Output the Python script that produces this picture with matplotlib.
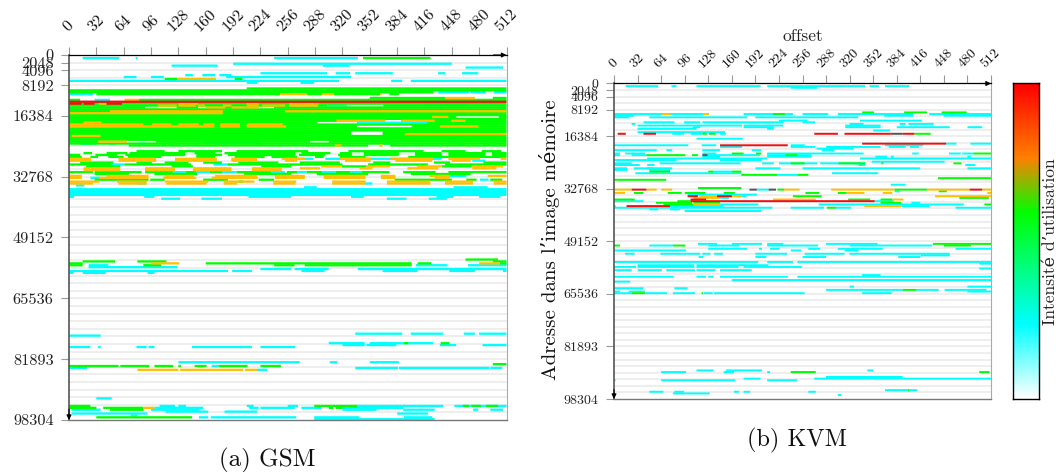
import numpy as np
import matplotlib
matplotlib.use("Agg")
from matplotlib import pyplot as plt
from matplotlib.colors import LinearSegmentedColormap

plt.rcParams['font.family'] = ['cmr10', 'DejaVu Serif']

# address of row = row * ROW_BYTES; every segment is (row, first offset, last offset)
ROW_BYTES = 512
MAX_ADDR = 98304
MAX_OFFSET = 512

x_ticks = list(range(0, 513, 32))
y_ticks = [0, 2048, 4096, 8192, 16384, 32768, 49152, 65536, 81920, 98304]
y_labels = ["0", "2048", "4096", "8192", "16384", "32768", "49152", "65536", "81893", "98304"]

gsm_cyan = [
    (1, 16, 59), (1, 78, 80), (1, 240, 338), (4, 192, 448), (5, 120, 174), (5, 297, 328), (6, 464, 508),
    (9, 224, 302), (9, 312, 329), (9, 335, 379), (9, 432, 440), (9, 460, 479), (10, 136, 145), (10, 156, 171),
    (10, 176, 190), (11, 64, 79), (11, 96, 111), (11, 184, 330), (13, 0, 316), (13, 377, 390), (13, 400, 512),
    (14, 208, 220), (14, 271, 287), (19, 432, 468), (19, 470, 487), (19, 497, 512), (20, 0, 28),
    (23, 30, 48), (25, 32, 40), (25, 415, 465), (26, 30, 42), (26, 302, 325), (32, 19, 30), (32, 78, 90),
    (32, 138, 149), (32, 395, 425), (35, 38, 87), (35, 278, 286), (35, 337, 419), (36, 87, 97), (36, 120, 128),
    (36, 152, 157), (43, 245, 255), (44, 406, 420), (44, 439, 471), (45, 157, 223), (46, 13, 32), (46, 47, 54),
    (46, 82, 89), (46, 117, 124), (46, 368, 376), (46, 455, 462), (46, 489, 497), (53, 208, 225), (53, 240, 255),
    (54, 268, 286), (54, 300, 436), (55, 472, 487), (57, 50, 65), (57, 169, 188), (61, 122, 137), (61, 149, 165),
    (61, 179, 196), (61, 237, 253), (61, 267, 278), (61, 296, 312), (61, 329, 343), (63, 445, 465),
    (64, 25, 36), (68, 8, 18), (67, 80, 90), (67, 345, 355), (66, 409, 419), (65, 481, 491),
    (70, 0, 512), (71, 0, 512), (72, 0, 512), (73, 0, 512), (69, 275, 290), (69, 450, 490), (74, 0, 6),
    (74, 88, 100), (74, 330, 345), (75, 108, 130), (75, 155, 179), (75, 372, 395), (75, 421, 442),
    (74, 210, 260), (74, 430, 450), (74, 480, 505), (110, 23, 46), (110, 406, 443), (110, 467, 512),
    (111, 23, 127), (112, 224, 260), (112, 264, 304), (112, 338, 512), (113, 0, 186), (113, 191, 214),
    (113, 272, 299), (113, 367, 408), (113, 445, 475), (113, 508, 512), (114, 0, 5), (114, 16, 43), (114, 92, 100),
    (146, 335, 390), (146, 400, 438), (146, 462, 475), (146, 480, 512), (147, 0, 37), (151, 304, 346),
    (151, 352, 426), (152, 320, 346), (152, 348, 383), (152, 434, 453), (152, 484, 512), (153, 0, 25),
    (153, 34, 37), (153, 79, 91), (153, 93, 100), (153, 144, 214), (153, 224, 265), (161, 128, 270),
    (161, 305, 314), (161, 352, 386), (163, 167, 175), (164, 0, 21), (164, 335, 385), (164, 386, 492),
    (164, 493, 507), (165, 220, 232), (180, 32, 50), (184, 106, 124), (184, 128, 137), (184, 208, 216),
    (184, 256, 268), (184, 337, 438), (184, 451, 512), (185, 100, 157), (185, 211, 222), (185, 224, 264),
    (185, 272, 295), (185, 320, 391), (186, 3, 37), (186, 96, 153), (186, 320, 360), (186, 391, 428),
    (186, 473, 479), (186, 493, 508), (187, 113, 163), (187, 182, 220), (188, 3, 92), (188, 384, 420),
    (189, 72, 80), (190, 152, 163), (190, 166, 266), (190, 287, 340), (190, 392, 425), (191, 287, 428),
]
gsm_green = [
    (1, 344, 423), (12, 112, 127), (12, 194, 203), (17, 208, 512), (18, 0, 512), (19, 0, 426), (20, 32, 247),
    (20, 278, 296), (20, 310, 364), (20, 375, 386), (22, 352, 440), (22, 496, 512), (23, 0, 13), (23, 82, 512),
    (25, 0, 512), (26, 0, 258), (26, 291, 302), (26, 368, 512), (27, 0, 89), (27, 126, 151), (27, 161, 222),
    (27, 240, 512), (28, 0, 512), (29, 0, 512), (30, 0, 512), (31, 0, 512), (32, 0, 453), (32, 503, 512),
    (33, 0, 512), (34, 0, 370), (34, 389, 512), (35, 0, 291), (35, 419, 512), (36, 0, 512), (37, 0, 337),
    (37, 401, 512), (38, 0, 512), (39, 0, 512), (40, 0, 330), (40, 367, 512), (41, 0, 330), (41, 367, 395),
    (42, 0, 512), (43, 0, 512), (44, 0, 512), (45, 0, 36), (45, 102, 282), (45, 304, 512), (46, 0, 512),
    (47, 70, 350), (47, 376, 512), (50, 79, 112), (50, 128, 179), (50, 196, 280), (50, 327, 415), (50, 436, 464),
    (50, 483, 506), (51, 17, 27), (51, 44, 68), (51, 71, 136), (51, 147, 171), (51, 182, 265), (51, 272, 306),
    (51, 317, 331), (51, 345, 386), (51, 405, 436), (51, 444, 487), (51, 495, 512), (52, 0, 13), (52, 31, 56),
    (52, 66, 136), (52, 149, 179), (52, 186, 265), (52, 269, 300), (52, 315, 331), (52, 345, 386), (52, 405, 436),
    (52, 444, 487), (52, 495, 512), (53, 0, 15), (53, 25, 34), (53, 46, 64), (53, 69, 108), (53, 149, 171),
    (53, 194, 229), (53, 237, 267), (53, 288, 298), (53, 317, 347), (53, 397, 512), (56, 13, 52), (56, 79, 97),
    (56, 112, 140), (56, 157, 179), (56, 198, 245), (56, 270, 317), (56, 356, 376), (56, 427, 446), (56, 485, 512),
    (57, 0, 50), (57, 65, 143), (57, 186, 320), (57, 350, 420), (57, 440, 512), (58, 20, 60), (58, 120, 145),
    (58, 225, 260), (58, 319, 348), (58, 436, 471), (61, 0, 28), (61, 30, 85), (61, 89, 122), (61, 137, 149),
    (61, 165, 179), (61, 196, 237), (61, 255, 267), (61, 278, 296), (61, 312, 329), (61, 343, 375), (61, 391, 429),
    (61, 444, 512), (62, 30, 70), (62, 100, 150), (62, 205, 260), (62, 290, 350), (62, 400, 470), (65, 30, 93),
    (65, 95, 112), (65, 157, 186), (65, 222, 240), (65, 381, 448), (65, 465, 477), (65, 493, 507), (66, 198, 204),
    (108, 16, 54), (108, 80, 114), (107, 464, 502), (108, 496, 512), (109, 0, 16), (109, 160, 401), (109, 408, 424),
    (109, 504, 512), (110, 0, 16), (110, 87, 108), (110, 240, 264), (110, 276, 401), (163, 0, 58), (163, 60, 94),
    (163, 100, 122), (163, 128, 131), (163, 147, 161), (163, 175, 209), (163, 224, 248), (162, 496, 512),
    (151, 392, 397), (151, 435, 445), (184, 0, 25), (184, 287, 337), (184, 461, 468), (184, 471, 482), (184, 488, 502),
    (185, 0, 32), (185, 40, 87), (185, 304, 309), (185, 312, 320), (186, 48, 87), (190, 32, 144),
]
gsm_gold = [
    (12, 127, 172), (20, 247, 278), (20, 296, 310), (20, 364, 366), (22, 440, 475), (23, 65, 82), (25, 35, 44),
    (25, 128, 151), (25, 208, 222), (25, 258, 292), (26, 104, 126), (26, 128, 148), (26, 151, 159), (26, 180, 190),
    (26, 208, 222), (26, 226, 253), (26, 258, 291), (27, 161, 183), (27, 190, 208), (27, 208, 222), (29, 48, 180),
    (29, 253, 512), (30, 0, 180), (32, 425, 444), (34, 313, 370), (34, 389, 428), (34, 447, 464), (35, 17, 38),
    (36, 0, 87), (36, 97, 120), (36, 128, 152), (36, 157, 170), (36, 177, 200), (36, 208, 250), (37, 0, 170),
    (37, 177, 200), (37, 208, 254), (37, 434, 479), (41, 393, 512), (42, 3, 37), (45, 34, 68), (47, 311, 319),
    (47, 363, 367), (54, 0, 26), (54, 58, 102), (54, 124, 173), (54, 190, 220), (54, 249, 276), (54, 317, 354),
    (54, 376, 427), (54, 444, 481), (54, 505, 512), (55, 0, 26), (55, 58, 102), (55, 124, 173), (55, 190, 220),
    (55, 253, 267), (55, 323, 353), (55, 382, 425), (55, 448, 470), (58, 295, 319), (58, 348, 376), (58, 407, 436),
    (58, 471, 508), (59, 17, 60), (59, 89, 124), (59, 145, 190), (59, 214, 249), (59, 270, 294), (59, 340, 355),
    (59, 396, 432), (59, 472, 500), (60, 17, 60), (60, 89, 124), (60, 145, 190), (60, 214, 249), (63, 0, 15),
    (63, 44, 93), (63, 112, 146), (63, 171, 220), (63, 241, 276), (63, 298, 347), (63, 365, 382), (63, 422, 445),
    (63, 490, 512), (64, 0, 15), (64, 36, 93), (64, 110, 149), (64, 167, 221), (64, 241, 276), (64, 298, 347),
    (64, 365, 382), (64, 428, 446), (66, 0, 36), (66, 56, 91), (66, 112, 163), (66, 181, 217), (66, 239, 266),
    (66, 308, 347), (66, 372, 423), (66, 440, 473), (66, 497, 512), (67, 0, 28), (67, 58, 91), (67, 114, 161),
    (67, 181, 197), (67, 239, 265), (67, 308, 347), (67, 372, 423), (67, 440, 473), (67, 497, 512),
    (109, 96, 129), (109, 480, 504), (165, 80, 128), (165, 130, 204), (165, 206, 220), (185, 87, 100),
]
gsm_red = [(24, 0, 512), (25, 0, 15), (25, 17, 30), (25, 44, 62)]

kvm_cyan = [
    (1, 16, 60), (1, 78, 85), (1, 112, 199), (1, 208, 316), (1, 316, 341), (1, 347, 360), (1, 368, 401), (2, 240, 276),
    (18, 0, 122), (18, 176, 243), (18, 256, 291), (18, 304, 406), (18, 428, 512), (19, 0, 27), (19, 367, 406),
    (19, 448, 512), (20, 0, 21), (20, 48, 181), (20, 192, 332), (22, 224, 263), (22, 334, 418), (23, 40, 82),
    (23, 95, 117), (23, 120, 230), (23, 256, 273), (24, 24, 29), (24, 320, 339), (24, 388, 396), (24, 400, 434),
    (25, 32, 174), (25, 176, 230), (25, 314, 362), (26, 107, 117), (26, 176, 217), (26, 314, 362), (26, 384, 456),
    (26, 480, 500), (27, 32, 112), (27, 208, 217), (28, 352, 375), (29, 32, 151), (30, 79, 95), (30, 104, 120),
    (30, 144, 152), (33, 112, 175), (36, 451, 465), (36, 484, 512), (37, 0, 101), (37, 119, 139), (37, 240, 259),
    (37, 368, 420), (38, 144, 174), (38, 240, 273), (38, 288, 362), (38, 373, 396), (38, 402, 414), (39, 275, 325),
    (40, 0, 58), (40, 71, 79), (40, 120, 144), (40, 187, 200), (40, 282, 299), (42, 0, 8), (42, 15, 42), (42, 120, 139),
    (42, 208, 339), (42, 405, 414), (42, 455, 471), (42, 473, 488), (43, 0, 8), (43, 24, 44), (43, 122, 198),
    (43, 208, 268), (44, 120, 144), (44, 208, 268), (44, 355, 371), (44, 376, 380), (44, 480, 485), (45, 45, 167),
    (45, 167, 208), (45, 334, 512), (46, 0, 85), (46, 144, 200), (47, 350, 449), (48, 0, 24), (48, 62, 172),
    (48, 201, 217), (48, 224, 276), (48, 280, 341), (49, 0, 35), (49, 45, 55), (49, 332, 341), (49, 477, 491),
    (51, 0, 18), (51, 27, 79), (51, 45, 55), (51, 192, 226), (51, 256, 416), (51, 480, 512), (52, 0, 18), (52, 48, 76),
    (53, 135, 160), (54, 29, 173), (54, 296, 359), (55, 222, 249), (61, 376, 396), (65, 381, 388), (64, 194, 210),
    (67, 100, 194), (68, 165, 180), (69, 144, 156), (71, 0, 40), (71, 354, 380), (72, 404, 416), (73, 144, 196),
    (73, 278, 428), (73, 428, 475), (74, 76, 148), (74, 391, 428), (75, 0, 76), (75, 76, 215), (75, 240, 285),
    (75, 300, 322), (75, 464, 512), (76, 48, 60), (76, 76, 90), (77, 96, 200),
    (97, 114, 140), (97, 160, 201), (97, 208, 230), (97, 288, 358), (98, 48, 80), (98, 128, 170), (98, 208, 277),
    (98, 320, 432), (100, 128, 181), (100, 197, 201), (100, 212, 225), (100, 264, 280), (100, 304, 365), (100, 464, 512),
    (101, 0, 98), (101, 240, 254), (101, 313, 332), (103, 15, 28), (103, 63, 117), (103, 120, 131), (103, 136, 148),
    (103, 192, 235), (103, 259, 313), (103, 320, 456), (104, 417, 456), (105, 115, 121), (105, 192, 207), (105, 256, 288),
    (105, 386, 416), (108, 0, 196), (108, 208, 243), (108, 249, 512), (109, 496, 512), (110, 32, 109), (110, 112, 210),
    (111, 0, 30), (111, 32, 109), (111, 112, 169), (111, 176, 255), (112, 496, 512), (113, 0, 24), (113, 32, 65),
    (113, 71, 110), (113, 112, 138), (113, 144, 187), (116, 337, 362), (117, 0, 81), (117, 112, 125), (117, 128, 135),
    (117, 144, 236), (117, 249, 512), (119, 160, 512), (120, 0, 22), (123, 320, 326), (123, 480, 512), (124, 0, 40),
    (124, 82, 100), (125, 288, 392), (125, 411, 441), (125, 449, 506), (126, 0, 8), (126, 20, 42), (126, 480, 512),
    (127, 0, 24), (127, 42, 72), (127, 80, 110), (127, 122, 134), (127, 136, 259), (127, 337, 377),
    (174, 112, 135), (174, 152, 201), (174, 344, 352), (175, 64, 98), (175, 149, 163), (175, 208, 212),
    (178, 288, 392), (179, 272, 512), (179, 176, 199), (180, 0, 2), (180, 64, 165), (180, 208, 249), (186, 368, 399),
    (186, 401, 412), (187, 48, 67), (187, 82, 95), (187, 163, 170), (187, 176, 185), (187, 264, 274), (188, 80, 130),
    (189, 304, 309),
]
kvm_green = [
    (17, 337, 353), (17, 394, 425), (17, 445, 479), (18, 216, 232), (30, 120, 126), (30, 129, 138), (30, 408, 430),
    (42, 160, 176), (42, 193, 200), (42, 488, 512), (43, 44, 97), (43, 106, 114), (43, 233, 249), (48, 240, 259),
    (48, 305, 341), (48, 363, 366), (48, 461, 472), (53, 48, 76), (53, 128, 135), (53, 160, 173), (55, 173, 222),
    (55, 249, 264), (57, 440, 512), (58, 0, 71), (63, 114, 173), (64, 222, 231), (64, 381, 425), (65, 441, 452),
    (66, 27, 40), (66, 73, 92), (66, 96, 124), (66, 149, 164), (66, 260, 279), (66, 304, 316), (68, 243, 282),
    (69, 469, 509), (70, 0, 28), (70, 318, 348), (70, 362, 378), (71, 86, 104), (72, 57, 106), (72, 108, 144),
    (72, 362, 390), (73, 67, 108), (73, 503, 512), (74, 0, 2), (75, 289, 301), (97, 433, 512), (98, 0, 8), (98, 80, 97),
    (98, 448, 485), (125, 392, 411), (127, 24, 42), (127, 119, 121), (175, 240, 274), (175, 496, 510), (186, 399, 401),
]
kvm_gold = [
    (18, 64, 77), (18, 122, 129), (64, 0, 24), (64, 44, 58), (64, 64, 79), (64, 231, 252), (64, 295, 381), (64, 425, 483),
    (64, 500, 512), (66, 0, 15), (66, 316, 340), (66, 365, 378), (66, 507, 512), (68, 116, 174), (68, 436, 512),
    (69, 108, 144), (70, 216, 274), (70, 378, 393), (73, 108, 144), (74, 340, 391),
]
kvm_red = [
    (30, 5, 16), (30, 40, 57), (30, 272, 304), (30, 313, 376), (30, 392, 408), (36, 337, 451), (37, 144, 236),
    (64, 24, 44), (64, 483, 500), (68, 100, 114), (68, 140, 160), (70, 104, 125), (71, 104, 354), (74, 17, 76),
]
kvm_dark = [(30, 376, 392), (43, 120, 127), (64, 184, 194), (64, 210, 220)]

cmap_stops = [(0.0, "#ffffff"), (0.235, "#00ffff"), (0.59, "#00ff00"), (0.765, "#ff8000"), (1.0, "#ff0000")]


def draw_segments(ax, segments, color):
    rows = np.array([s[0] for s in segments])
    starts = np.array([s[1] for s in segments])
    ends = np.array([s[2] for s in segments])
    # no snapping: rows are under 2 px tall and get uneven heights otherwise
    # slight overlap so that stacked rows leave no light seams
    bars = ax.barh(rows * ROW_BYTES, ends - starts, left=starts, height=ROW_BYTES * 1.2, align="edge",
                   color=color, linewidth=0, zorder=2)
    for bar in bars:
        bar.set_snap(False)


def setup_axes(ax, fontsize, x_pad):
    ax.set_xlim(0, MAX_OFFSET)
    ax.set_ylim(MAX_ADDR, 0)
    for addr in range(0, MAX_ADDR, 2048):
        ax.axhline(addr, color="#e9e9e9", lw=1.1, zorder=1)
    ax.xaxis.tick_top()
    ax.set_xticks(x_ticks)
    ax.set_xticklabels(x_ticks, rotation=45, ha="center", va="bottom", fontsize=fontsize, color="#111111")
    ax.set_yticks(y_ticks)
    ax.set_yticklabels(y_labels, fontsize=fontsize, color="#222222")
    ax.tick_params(axis="both", length=6, width=0.8, color="#999999", pad=5)
    ax.tick_params(axis="x", pad=x_pad)
    ax.spines["top"].set_color("black")
    ax.spines["top"].set_linewidth(0.9)
    ax.spines["left"].set_color("#555555")
    ax.spines["left"].set_linewidth(1.2)
    ax.spines["right"].set_color("#aaaaaa")
    ax.spines["bottom"].set_color("#777777")
    ax.spines["bottom"].set_linewidth(1.0)
    # axis arrows
    arrow = dict(arrowstyle="-|>", color="black", lw=0.8, mutation_scale=7, shrinkA=0, shrinkB=0)
    ax.annotate("", xy=(1.0, 1.0), xytext=(0.97, 1.0), xycoords="axes fraction", arrowprops=arrow, zorder=5)
    ax.annotate("", xy=(0.0, 0.0), xytext=(0.0, 0.03), xycoords="axes fraction", arrowprops=arrow, zorder=5)


W, H = 1056, 472
fig = plt.figure(figsize=(W / 100, H / 100), dpi=100)


def px_axes(x0, x1, top, bottom):
    return fig.add_axes([x0 / W, 1 - bottom / H, (x1 - x0) / W, (bottom - top) / H])


ax_gsm = px_axes(69, 506.5, 55, 420)
setup_axes(ax_gsm, 11.8, 9.3)
draw_segments(ax_gsm, gsm_cyan, "#00ffff")
draw_segments(ax_gsm, gsm_green, "#00ff00")
draw_segments(ax_gsm, gsm_gold, "#ffc000")
draw_segments(ax_gsm, gsm_red, "#f01010")

ax_kvm = px_axes(614, 991, 83.5, 399)
setup_axes(ax_kvm, 10, 3.5)
draw_segments(ax_kvm, kvm_cyan, "#00ffff")
draw_segments(ax_kvm, kvm_green, "#00ff00")
draw_segments(ax_kvm, kvm_gold, "#ffc000")
draw_segments(ax_kvm, kvm_red, "#f01010")
draw_segments(ax_kvm, kvm_dark, "#555555")

# colour bar
ax_bar = px_axes(1013, 1039, 83, 399)
cmap = LinearSegmentedColormap.from_list("usage", cmap_stops)
ax_bar.imshow(np.linspace(1, 0, 316).reshape(-1, 1), cmap=cmap, aspect="auto", vmin=0, vmax=1)
ax_bar.set_xticks([])
ax_bar.set_yticks([])
for spine in ax_bar.spines.values():
    spine.set_linewidth(1.0)

fig.text(267 / W, 1 - 460 / H, "(a) GSM", ha="center", va="center", fontsize=18, color="#111111")
fig.text(797 / W, 1 - 440 / H, "(b) KVM", ha="center", va="center", fontsize=17.5, color="#111111")
fig.text(803 / W, 1 - 36 / H, "offset", ha="center", va="center", fontsize=12.6, color="#222222")
fig.text(550 / W, 1 - 240 / H, "Adresse dans l\u2019image m\u00e9moire", rotation=90, ha="center", va="center",
         fontsize=15, color="#111111")
fig.text(1050 / W, 1 - 242 / H, "Intensit\u00e9 d\u2019utilisation", rotation=90, ha="center", va="center",
         fontsize=12.6, color="#222222")

fig.savefig("out.png", dpi=100)
